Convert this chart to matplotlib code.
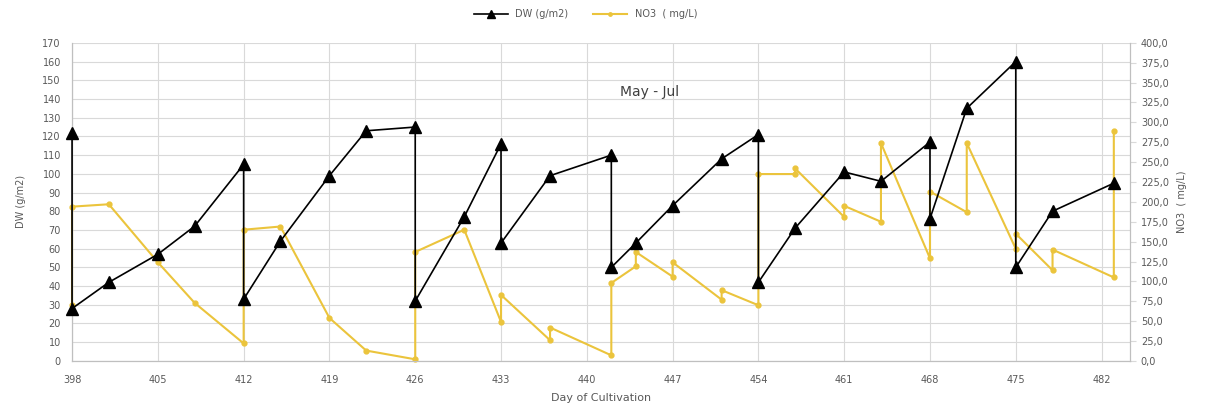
import numpy as np
import matplotlib
matplotlib.use("Agg")
import matplotlib.pyplot as plt
from matplotlib.ticker import FuncFormatter, MultipleLocator


# ==========================================================
# DATA
# ==========================================================

dw_days = [398, 398, 401, 405, 408, 412, 412, 415, 419, 422, 426, 426,
           430, 433, 433, 437, 442, 442, 444, 447, 451, 454, 454, 457,
           461, 464, 468, 468, 471, 475, 475, 478, 483]

dw_values = [122, 28, 42, 57, 72, 105, 33, 64, 99, 123, 125, 32,
             77, 116, 63, 99, 110, 50, 63, 83, 108, 121, 42, 71,
             101, 96, 117, 76, 135, 160, 50, 80, 95]

no3_days = [398, 398, 401, 405, 408, 412, 412, 415, 419, 422, 426, 426,
            430, 433, 433, 437, 437, 442, 442, 444, 444, 447, 447, 451,
            451, 454, 454, 457, 457, 461, 461, 464, 464, 468, 468, 471,
            471, 475, 475, 478, 478, 483, 483]

no3_values = [70, 194, 197, 124, 73, 22, 165, 169, 54, 13, 2, 137,
              165, 49, 83, 26, 42, 7, 98, 119, 137, 106, 124, 77,
              89, 70, 235, 235, 242, 181, 195, 175, 274, 129, 213, 187,
              274, 141, 160, 114, 140, 105, 289]

x_ticks = list(range(398, 483, 7))


# ==========================================================
# STYLE
# ==========================================================

TEXT = "#595959"
GRID = "#d9d9d9"
YELLOW = "#ebc43c"

plt.rcParams["font.family"] = ["DejaVu Sans"]
plt.rcParams["font.size"] = 7

DW_MAX = 170
NO3_MAX = 400


# ==========================================================
# PLOT
# ==========================================================

def main():

    fig = plt.figure(figsize=(12.07, 4.12), dpi=100)
    ax = fig.add_axes([0.0597, 0.124, 0.8763, 0.772])
    ax2 = ax.twinx()

    # gridlines live on the bottom (NO3) axes so both series sit above them
    for t in range(0, DW_MAX + 1, 10):
        ax2.axhline(t * NO3_MAX / DW_MAX, color=GRID, linewidth=0.8, zorder=0)
    for d in x_ticks:
        ax2.axvline(d, color=GRID, linewidth=0.8, zorder=0)

    line_no3, = ax2.plot(
        no3_days,
        no3_values,
        color=YELLOW,
        linewidth=1.5,
        marker="o",
        markersize=3.5,
        label="NO3  ( mg/L)",
        zorder=4,
        clip_on=False
    )

    line_dw, = ax.plot(
        dw_days,
        dw_values,
        color="black",
        linewidth=1.2,
        marker="^",
        markersize=8,
        label="DW (g/m2)",
        zorder=5,
        clip_on=False
    )

    ax.set_zorder(ax2.get_zorder() + 1)
    ax.patch.set_visible(False)

    # axes limits / ticks
    ax.set_xlim(398, 484.3)
    ax.set_xticks(x_ticks)
    ax.set_ylim(0, DW_MAX)
    ax.yaxis.set_major_locator(MultipleLocator(10))
    ax2.set_ylim(0, NO3_MAX)
    ax2.yaxis.set_major_locator(MultipleLocator(25))
    ax2.yaxis.set_major_formatter(
        FuncFormatter(lambda v, p: f"{v:.1f}".replace(".", ","))
    )

    ax.tick_params(axis="both", colors=TEXT, length=0, pad=8, labelsize=7)
    ax.tick_params(axis="x", pad=10)
    ax2.tick_params(axis="y", colors=GRID, labelcolor=TEXT,
                    length=4, width=0.8, pad=4, labelsize=7)

    for a in (ax, ax2):
        for side, sp in a.spines.items():
            sp.set_color("#bfbfbf")
            sp.set_linewidth(0.8)
        a.spines["top"].set_visible(False)

    # labels
    ax.set_xlabel("Day of Cultivation", color=TEXT, fontsize=8, labelpad=6)
    ax.set_ylabel("DW (g/m2)", color=TEXT, fontsize=7, labelpad=12)
    ax2.set_ylabel("NO3  ( mg/L)", color=TEXT, fontsize=7, labelpad=6)

    ax.text(
        0.546, 0.846,
        "May - Jul",
        transform=ax.transAxes,
        ha="center",
        va="center",
        fontsize=10,
        color="#404040"
    )

    fig.legend(
        handles=[line_dw, line_no3],
        loc="center",
        bbox_to_anchor=(0.485, 0.965),
        ncol=2,
        frameon=False,
        fontsize=7,
        labelcolor=TEXT,
        handlelength=3.5,
        columnspacing=2.5,
        markerscale=0.7
    )

    fig.savefig("out.png", dpi=100)


if __name__ == "__main__":
    main()
